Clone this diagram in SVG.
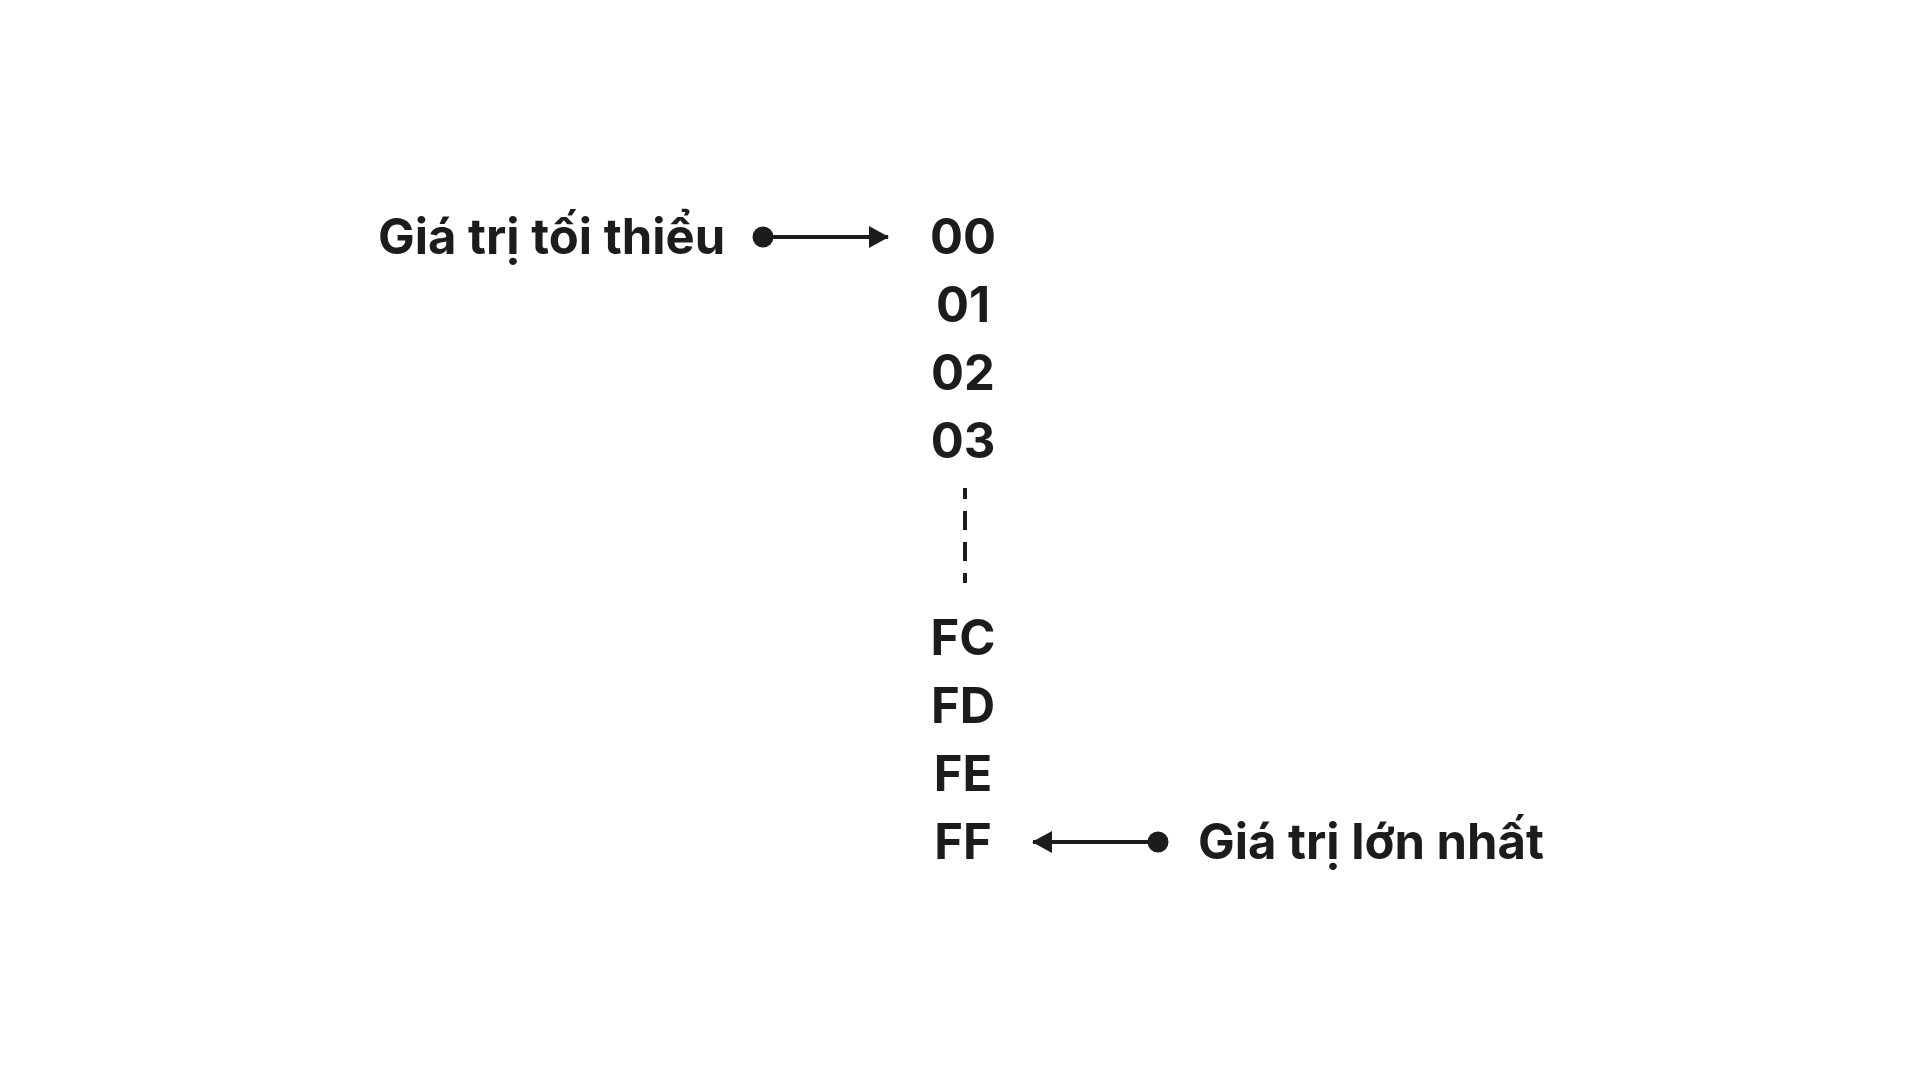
<svg xmlns="http://www.w3.org/2000/svg" width="1920" height="1080" viewBox="0 0 1920 1080">
<defs>
<style>
.t{font-family:Inter,"Noto Sans","Liberation Sans",sans-serif;font-weight:700;font-size:49px;fill:#1c1c1c}
.v{text-anchor:middle}
.c{stroke:#1c1c1c;stroke-width:4;fill:none}
</style>
<marker id="ah" viewBox="0 0 20 22" refX="19" refY="11" markerWidth="20" markerHeight="22" markerUnits="userSpaceOnUse" orient="auto">
<path d="M0,0 L20,11 L0,22 Z" fill="#1c1c1c"/>
</marker>
</defs>
<rect width="1920" height="1080" fill="#ffffff"/>
<g id="label-min"><text class="t" x="378" y="254">Giá trị tối thiểu</text></g>
<g id="label-max"><text class="t" x="1198" y="859">Giá trị lớn nhất</text></g>
<g id="values">
<g id="v00"><text class="t v" x="963" y="254">00</text></g>
<g id="v01"><text class="t v" x="963" y="322">01</text></g>
<g id="v02"><text class="t v" x="963" y="390">02</text></g>
<g id="v03"><text class="t v" x="963" y="458">03</text></g>
<g id="vFC"><text class="t v" x="963" y="655">FC</text></g>
<g id="vFD"><text class="t v" x="963" y="723">FD</text></g>
<g id="vFE"><text class="t v" x="963" y="791">FE</text></g>
<g id="vFF"><text class="t v" x="963" y="859">FF</text></g>
</g>
<g id="connectors">
<line class="c" x1="965" y1="488" x2="965" y2="583" stroke-width="3" stroke-dasharray="19 12" stroke-dashoffset="8"/>
<circle cx="763" cy="237" r="10.5" fill="#1c1c1c"/>
<line class="c" x1="763" y1="237" x2="888" y2="237" marker-end="url(#ah)"/>
<circle cx="1158" cy="842" r="10.5" fill="#1c1c1c"/>
<line class="c" x1="1158" y1="842" x2="1033" y2="842" marker-end="url(#ah)"/>
</g>
</svg>
